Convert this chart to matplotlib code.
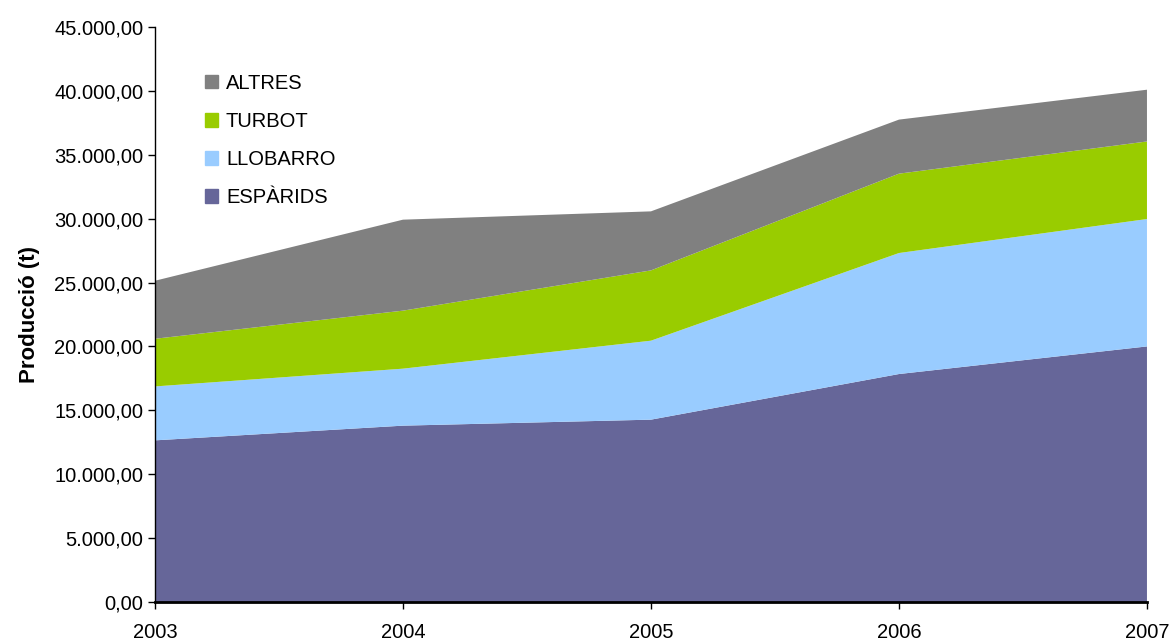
import matplotlib
matplotlib.use("Agg")
import matplotlib.pyplot as plt
from matplotlib.patches import Patch
from matplotlib.ticker import FuncFormatter

plt.rcParams['font.family'] = ['Liberation Sans', 'DejaVu Sans']

years = [2003, 2004, 2005, 2006, 2007]
esparids = [12650, 13800, 14270, 17840, 20000]
llobarro = [4220, 4460, 6180, 9470, 9970]
turbot = [3730, 4540, 5500, 6210, 6070]
altres = [4540, 7120, 4620, 4230, 4050]

labels = ["ESPÀRIDS", "LLOBARRO", "TURBOT", "ALTRES"]
colors = ["#666699", "#99CCFF", "#99CC00", "#808080"]


def fmt(v, pos):
    s = "{:,.2f}".format(v)
    return s.replace(",", "X").replace(".", ",").replace("X", ".")


fig = plt.figure(figsize=(11.73, 6.42), dpi=100)
ax = fig.add_axes([0.1321, 0.0623, 0.8457, 0.8957])

ax.stackplot(years, esparids, llobarro, turbot, altres, colors=colors,
             labels=labels, linewidth=0)

ax.set_xlim(2003, 2007)
ax.set_ylim(0, 45000)
ax.set_xticks(years)
ax.set_yticks(range(0, 45001, 5000))
ax.yaxis.set_major_formatter(FuncFormatter(fmt))
ax.tick_params(axis='both', labelsize=14.5, length=5, width=1, colors='black')
ax.tick_params(axis='x', pad=10)

for s in ['top', 'right']:
    ax.spines[s].set_visible(False)
ax.spines['left'].set_linewidth(1)
ax.spines['bottom'].set_linewidth(2)

ax.set_ylabel("Producció (t)", fontsize=16, fontweight='bold', labelpad=10)

handles = [Patch(color=c, label=l) for c, l in zip(colors, labels)]
ax.legend(handles[::-1], labels[::-1], loc='upper left',
          bbox_to_anchor=(0.032, 0.95), frameon=False, fontsize=14.5,
          handlelength=0.65, handleheight=0.65, handletextpad=0.4,
          labelspacing=0.95)

fig.savefig("out.png", dpi=100)
